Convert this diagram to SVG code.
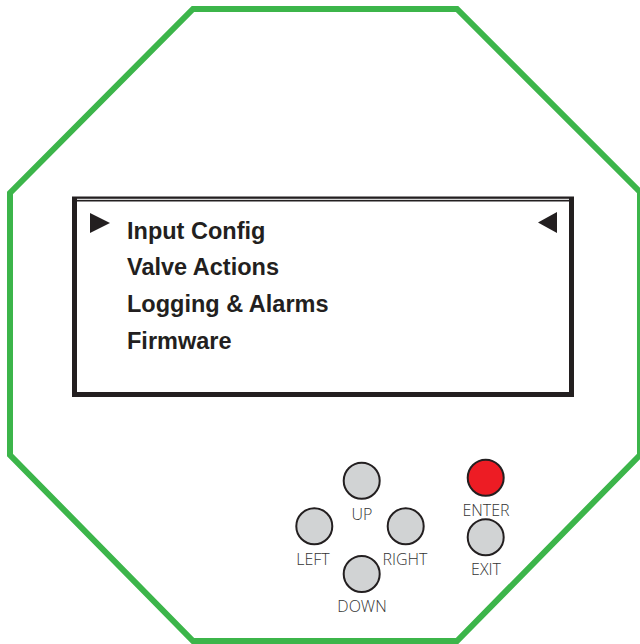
<svg xmlns="http://www.w3.org/2000/svg" width="640" height="644" viewBox="0 0 640 644">
<style>
.menu{font-family:"Liberation Sans",Arial,sans-serif;font-weight:bold;font-size:23.5px;fill:#231f20}
.lbl{font-family:"Open Sans","Liberation Sans",sans-serif;font-size:16px;font-weight:300;fill:#333333;text-anchor:middle}
.btn{fill:#d1d3d4;stroke:#231f20;stroke-width:2}
</style>
<rect width="640" height="644" fill="#ffffff"/>
<g id="housing">
<polygon points="193,9 457,9 640,192 640,455 457,641 193,641 10,455 10,193" fill="none" stroke="#3cb54a" stroke-width="6" stroke-linejoin="miter"/>
</g>
<g id="display">
<rect x="74.5" y="199" width="497" height="195.5" fill="#ffffff" stroke="#231f20" stroke-width="5"/>
<line x1="77" y1="199.3" x2="569" y2="199.3" stroke="#d8d8d8" stroke-width="1.2"/>
<polygon points="90,213 110,223 90,233" fill="#231f20"/>
<polygon points="557,212 538,222.5 557,233" fill="#231f20"/>
<text class="menu" x="127" y="239">Input Config</text>
<text class="menu" x="127" y="275">Valve Actions</text>
<text class="menu" x="127" y="312">Logging &amp; Alarms</text>
<text class="menu" x="127" y="349">Firmware</text>
</g>
<g id="btn-up"><circle class="btn" cx="361.7" cy="480.7" r="18"/><text class="lbl" x="362" y="520">UP</text></g>
<g id="btn-left"><circle class="btn" cx="314.3" cy="526.3" r="18"/><text class="lbl" x="313" y="565">LEFT</text></g>
<g id="btn-right"><circle class="btn" cx="405.7" cy="526.3" r="18"/><text class="lbl" x="405" y="565">RIGHT</text></g>
<g id="btn-down"><circle class="btn" cx="361.7" cy="574" r="18"/><text class="lbl" x="362" y="612">DOWN</text></g>
<g id="btn-enter"><circle cx="485.7" cy="477.7" r="18" fill="#ed1c24" stroke="#231f20" stroke-width="2"/><text class="lbl" x="486" y="516">ENTER</text></g>
<g id="btn-exit"><circle class="btn" cx="485.7" cy="537.3" r="18"/><text class="lbl" x="486" y="575">EXIT</text></g>
<g id="connectors"></g>
</svg>
